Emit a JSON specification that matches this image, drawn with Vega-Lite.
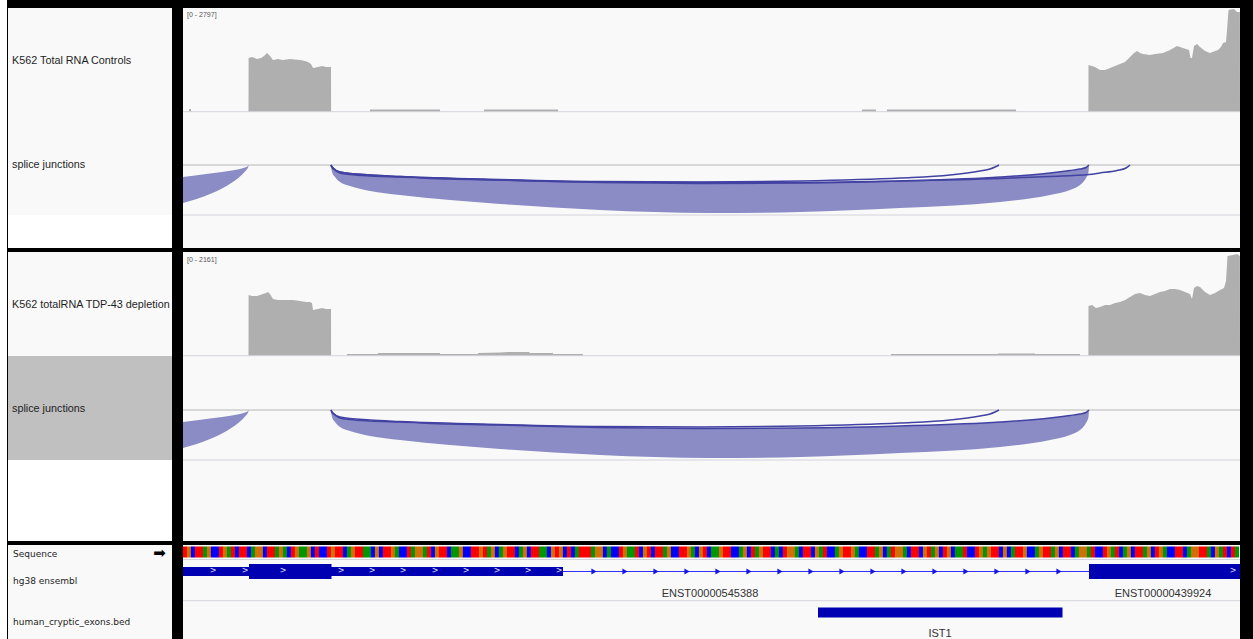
{
  "$schema": "https://vega.github.io/schema/vega-lite/v6.json",
  "width": 1253,
  "height": 639,
  "autosize": {"type": "fit", "contains": "padding"},
  "padding": 0,
  "background": "#ffffff",
  "config": {"view": {"stroke": null}},
  "datasets": {
    "boxes": [
      {"x": 0, "x2": 7, "y": 0, "y2": 639, "k": "w"},
      {"x": 7, "x2": 1253, "y": 0, "y2": 639, "k": "b"},
      {"x": 8, "x2": 172, "y": 8, "y2": 215, "k": "p"},
      {"x": 8, "x2": 172, "y": 215, "y2": 248, "k": "w"},
      {"x": 8, "x2": 172, "y": 252, "y2": 356, "k": "p"},
      {"x": 8, "x2": 172, "y": 356, "y2": 460, "k": "g"},
      {"x": 8, "x2": 172, "y": 460, "y2": 541, "k": "w"},
      {"x": 8, "x2": 172, "y": 545, "y2": 639, "k": "p"},
      {"x": 183, "x2": 1240, "y": 8, "y2": 248, "k": "p"},
      {"x": 183, "x2": 1240, "y": 252, "y2": 541, "k": "p"},
      {"x": 183, "x2": 1240, "y": 545, "y2": 639, "k": "p"}
    ],
    "hl": [
      {"x": 183, "x2": 1240, "y": 111.7, "k": "s"},
      {"x": 183, "x2": 1240, "y": 165, "k": "m"},
      {"x": 183, "x2": 1240, "y": 215, "k": "s"},
      {"x": 183, "x2": 1240, "y": 355.7, "k": "s"},
      {"x": 183, "x2": 1240, "y": 410, "k": "m"},
      {"x": 183, "x2": 1240, "y": 460, "k": "s"},
      {"x": 183, "x2": 1240, "y": 559.5, "k": "s"},
      {"x": 183, "x2": 1240, "y": 600.7, "k": "s"}
    ],
    "cov": [
      {"t": "a", "x": 183, "y": 111.3}, {"t": "a", "x": 189, "y": 111.3}, {"t": "a", "x": 189.1, "y": 109}, {"t": "a", "x": 191, "y": 109}, {"t": "a", "x": 191.1, "y": 111.3},
      {"t": "a", "x": 248.5, "y": 111.3}, {"t": "a", "x": 248.6, "y": 58}, {"t": "a", "x": 252, "y": 57}, {"t": "a", "x": 257, "y": 59}, {"t": "a", "x": 261, "y": 58}, {"t": "a", "x": 264, "y": 56}, {"t": "a", "x": 267, "y": 53}, {"t": "a", "x": 270, "y": 56}, {"t": "a", "x": 273, "y": 60}, {"t": "a", "x": 278, "y": 59}, {"t": "a", "x": 283, "y": 60}, {"t": "a", "x": 290, "y": 59}, {"t": "a", "x": 300, "y": 60}, {"t": "a", "x": 305, "y": 61}, {"t": "a", "x": 308, "y": 62}, {"t": "a", "x": 311, "y": 64}, {"t": "a", "x": 313, "y": 68}, {"t": "a", "x": 318, "y": 67}, {"t": "a", "x": 322, "y": 66}, {"t": "a", "x": 326, "y": 67}, {"t": "a", "x": 331, "y": 67}, {"t": "a", "x": 331.1, "y": 111.3},
      {"t": "a", "x": 369.9, "y": 111.3}, {"t": "a", "x": 370, "y": 109.5}, {"t": "a", "x": 440, "y": 109.5}, {"t": "a", "x": 440.1, "y": 111.3},
      {"t": "a", "x": 483.9, "y": 111.3}, {"t": "a", "x": 484, "y": 109.5}, {"t": "a", "x": 558, "y": 109.5}, {"t": "a", "x": 558.1, "y": 111.3},
      {"t": "a", "x": 861.9, "y": 111.3}, {"t": "a", "x": 862, "y": 109.5}, {"t": "a", "x": 876, "y": 109.5}, {"t": "a", "x": 876.1, "y": 111.3},
      {"t": "a", "x": 886.9, "y": 111.3}, {"t": "a", "x": 887, "y": 109.5}, {"t": "a", "x": 1016, "y": 109.5}, {"t": "a", "x": 1016.1, "y": 111.3},
      {"t": "a", "x": 1088.4, "y": 111.3}, {"t": "a", "x": 1088.5, "y": 65}, {"t": "a", "x": 1092, "y": 66}, {"t": "a", "x": 1095, "y": 67}, {"t": "a", "x": 1100, "y": 70}, {"t": "a", "x": 1105, "y": 70}, {"t": "a", "x": 1110, "y": 68}, {"t": "a", "x": 1115, "y": 66}, {"t": "a", "x": 1120, "y": 64}, {"t": "a", "x": 1125, "y": 62}, {"t": "a", "x": 1130, "y": 57}, {"t": "a", "x": 1134, "y": 53}, {"t": "a", "x": 1137, "y": 51}, {"t": "a", "x": 1140, "y": 53}, {"t": "a", "x": 1143, "y": 54}, {"t": "a", "x": 1150, "y": 55}, {"t": "a", "x": 1155, "y": 54}, {"t": "a", "x": 1163, "y": 53}, {"t": "a", "x": 1170, "y": 50}, {"t": "a", "x": 1177, "y": 46}, {"t": "a", "x": 1183, "y": 48}, {"t": "a", "x": 1189, "y": 50}, {"t": "a", "x": 1190.5, "y": 58}, {"t": "a", "x": 1192, "y": 58}, {"t": "a", "x": 1194, "y": 46}, {"t": "a", "x": 1197, "y": 44}, {"t": "a", "x": 1200, "y": 47}, {"t": "a", "x": 1205, "y": 51}, {"t": "a", "x": 1210, "y": 53}, {"t": "a", "x": 1215, "y": 51}, {"t": "a", "x": 1218, "y": 50}, {"t": "a", "x": 1221, "y": 47}, {"t": "a", "x": 1223, "y": 43}, {"t": "a", "x": 1226, "y": 42}, {"t": "a", "x": 1227, "y": 30}, {"t": "a", "x": 1228.5, "y": 10}, {"t": "a", "x": 1234, "y": 9}, {"t": "a", "x": 1237, "y": 12}, {"t": "a", "x": 1239.9, "y": 12}, {"t": "a", "x": 1240, "y": 111.3},
      {"t": "b", "x": 183, "y": 355.3}, {"t": "b", "x": 248.5, "y": 355.3}, {"t": "b", "x": 248.6, "y": 295}, {"t": "b", "x": 252, "y": 296}, {"t": "b", "x": 257, "y": 296}, {"t": "b", "x": 260, "y": 295}, {"t": "b", "x": 263, "y": 294}, {"t": "b", "x": 266, "y": 293}, {"t": "b", "x": 268, "y": 292}, {"t": "b", "x": 270, "y": 294}, {"t": "b", "x": 273, "y": 299}, {"t": "b", "x": 278, "y": 300}, {"t": "b", "x": 283, "y": 300}, {"t": "b", "x": 288, "y": 300}, {"t": "b", "x": 293, "y": 300}, {"t": "b", "x": 300, "y": 301}, {"t": "b", "x": 306, "y": 302}, {"t": "b", "x": 310, "y": 302}, {"t": "b", "x": 312, "y": 303}, {"t": "b", "x": 313, "y": 310}, {"t": "b", "x": 318, "y": 309}, {"t": "b", "x": 322, "y": 308}, {"t": "b", "x": 326, "y": 309}, {"t": "b", "x": 331, "y": 309}, {"t": "b", "x": 331.1, "y": 355.3},
      {"t": "b", "x": 346.9, "y": 355.3}, {"t": "b", "x": 347, "y": 354}, {"t": "b", "x": 378, "y": 354}, {"t": "b", "x": 378.1, "y": 353}, {"t": "b", "x": 440, "y": 353}, {"t": "b", "x": 440.1, "y": 354}, {"t": "b", "x": 478, "y": 354}, {"t": "b", "x": 478.1, "y": 353}, {"t": "b", "x": 500, "y": 352.5}, {"t": "b", "x": 508, "y": 352}, {"t": "b", "x": 529, "y": 352}, {"t": "b", "x": 530, "y": 353}, {"t": "b", "x": 552, "y": 353}, {"t": "b", "x": 552.5, "y": 352.5}, {"t": "b", "x": 553, "y": 354}, {"t": "b", "x": 583, "y": 354}, {"t": "b", "x": 583.1, "y": 355.3},
      {"t": "b", "x": 890.9, "y": 355.3}, {"t": "b", "x": 891, "y": 354}, {"t": "b", "x": 998, "y": 354}, {"t": "b", "x": 998.1, "y": 353.5}, {"t": "b", "x": 1035, "y": 353.5}, {"t": "b", "x": 1035.1, "y": 354}, {"t": "b", "x": 1080, "y": 354}, {"t": "b", "x": 1080.1, "y": 355.3},
      {"t": "b", "x": 1088.4, "y": 355.3}, {"t": "b", "x": 1088.5, "y": 306}, {"t": "b", "x": 1092, "y": 305}, {"t": "b", "x": 1096, "y": 308}, {"t": "b", "x": 1100, "y": 307}, {"t": "b", "x": 1105, "y": 305}, {"t": "b", "x": 1110, "y": 305}, {"t": "b", "x": 1115, "y": 303}, {"t": "b", "x": 1120, "y": 302}, {"t": "b", "x": 1125, "y": 300}, {"t": "b", "x": 1130, "y": 297}, {"t": "b", "x": 1135, "y": 294}, {"t": "b", "x": 1140, "y": 293}, {"t": "b", "x": 1145, "y": 295}, {"t": "b", "x": 1150, "y": 296}, {"t": "b", "x": 1155, "y": 294}, {"t": "b", "x": 1160, "y": 292}, {"t": "b", "x": 1165, "y": 291}, {"t": "b", "x": 1170, "y": 289}, {"t": "b", "x": 1175, "y": 289}, {"t": "b", "x": 1180, "y": 290}, {"t": "b", "x": 1185, "y": 292}, {"t": "b", "x": 1190, "y": 294}, {"t": "b", "x": 1192, "y": 299}, {"t": "b", "x": 1194, "y": 288}, {"t": "b", "x": 1197, "y": 286}, {"t": "b", "x": 1200, "y": 287}, {"t": "b", "x": 1205, "y": 292}, {"t": "b", "x": 1210, "y": 295}, {"t": "b", "x": 1215, "y": 293}, {"t": "b", "x": 1220, "y": 290}, {"t": "b", "x": 1224, "y": 288}, {"t": "b", "x": 1226, "y": 281}, {"t": "b", "x": 1227.5, "y": 256}, {"t": "b", "x": 1233, "y": 255}, {"t": "b", "x": 1237, "y": 254}, {"t": "b", "x": 1239.9, "y": 256}, {"t": "b", "x": 1240, "y": 355.3}
    ],
    "junc": [
      {"j": "A1", "x": 183, "lo": 203, "hi": 177}, {"j": "A1", "x": 195, "lo": 199.5, "hi": 175.5}, {"j": "A1", "x": 210, "lo": 194, "hi": 173.5}, {"j": "A1", "x": 222, "lo": 188.5, "hi": 172}, {"j": "A1", "x": 232, "lo": 182.5, "hi": 170.5}, {"j": "A1", "x": 240, "lo": 176.5, "hi": 169}, {"j": "A1", "x": 245, "lo": 171.5, "hi": 167.5}, {"j": "A1", "x": 248, "lo": 167.5, "hi": 166}, {"j": "A1", "x": 249, "lo": 165, "hi": 165},
      {"j": "B1", "x": 331, "lo": 165, "hi": 165}, {"j": "B1", "x": 332, "lo": 172, "hi": 167.5}, {"j": "B1", "x": 335, "lo": 177, "hi": 170}, {"j": "B1", "x": 340, "lo": 182, "hi": 173}, {"j": "B1", "x": 350, "lo": 186, "hi": 174.5}, {"j": "B1", "x": 370, "lo": 191, "hi": 176}, {"j": "B1", "x": 400, "lo": 195, "hi": 177}, {"j": "B1", "x": 450, "lo": 200, "hi": 179}, {"j": "B1", "x": 500, "lo": 204, "hi": 180}, {"j": "B1", "x": 600, "lo": 210, "hi": 182.5}, {"j": "B1", "x": 710, "lo": 213, "hi": 183.5}, {"j": "B1", "x": 800, "lo": 212, "hi": 183}, {"j": "B1", "x": 900, "lo": 208, "hi": 181}, {"j": "B1", "x": 1000, "lo": 202, "hi": 177}, {"j": "B1", "x": 1050, "lo": 195, "hi": 173}, {"j": "B1", "x": 1070, "lo": 190, "hi": 170.5}, {"j": "B1", "x": 1080, "lo": 185, "hi": 169}, {"j": "B1", "x": 1086, "lo": 178, "hi": 167.5}, {"j": "B1", "x": 1088.5, "lo": 172, "hi": 166.5}, {"j": "B1", "x": 1089, "lo": 165, "hi": 165},
      {"j": "A2", "x": 183, "lo": 448, "hi": 422}, {"j": "A2", "x": 195, "lo": 444.5, "hi": 420.5}, {"j": "A2", "x": 210, "lo": 439, "hi": 418.5}, {"j": "A2", "x": 222, "lo": 433.5, "hi": 417}, {"j": "A2", "x": 232, "lo": 427.5, "hi": 415.5}, {"j": "A2", "x": 240, "lo": 421.5, "hi": 414}, {"j": "A2", "x": 245, "lo": 416.5, "hi": 412.5}, {"j": "A2", "x": 248, "lo": 412.5, "hi": 411}, {"j": "A2", "x": 249, "lo": 410, "hi": 410},
      {"j": "B2", "x": 331, "lo": 410, "hi": 410}, {"j": "B2", "x": 332, "lo": 417, "hi": 412.5}, {"j": "B2", "x": 335, "lo": 422, "hi": 415}, {"j": "B2", "x": 340, "lo": 427, "hi": 418}, {"j": "B2", "x": 350, "lo": 431, "hi": 419.5}, {"j": "B2", "x": 370, "lo": 436, "hi": 421}, {"j": "B2", "x": 400, "lo": 440, "hi": 422}, {"j": "B2", "x": 450, "lo": 445, "hi": 424}, {"j": "B2", "x": 500, "lo": 449, "hi": 425}, {"j": "B2", "x": 600, "lo": 455, "hi": 427.5}, {"j": "B2", "x": 710, "lo": 458, "hi": 428.5}, {"j": "B2", "x": 800, "lo": 457, "hi": 428}, {"j": "B2", "x": 900, "lo": 453, "hi": 426}, {"j": "B2", "x": 1000, "lo": 447, "hi": 422}, {"j": "B2", "x": 1050, "lo": 440, "hi": 418}, {"j": "B2", "x": 1070, "lo": 435, "hi": 415.5}, {"j": "B2", "x": 1080, "lo": 430, "hi": 414}, {"j": "B2", "x": 1086, "lo": 423, "hi": 412.5}, {"j": "B2", "x": 1088.5, "lo": 417, "hi": 411.5}, {"j": "B2", "x": 1089, "lo": 410, "hi": 410}
    ],
    "arcs": [
      {"j": "C1", "x": 331, "y": 165}, {"j": "C1", "x": 333, "y": 168}, {"j": "C1", "x": 340, "y": 172}, {"j": "C1", "x": 370, "y": 175}, {"j": "C1", "x": 400, "y": 176.5}, {"j": "C1", "x": 500, "y": 179.5}, {"j": "C1", "x": 600, "y": 181.5}, {"j": "C1", "x": 700, "y": 182}, {"j": "C1", "x": 800, "y": 181}, {"j": "C1", "x": 900, "y": 178}, {"j": "C1", "x": 950, "y": 175}, {"j": "C1", "x": 980, "y": 171}, {"j": "C1", "x": 990, "y": 169}, {"j": "C1", "x": 995, "y": 167}, {"j": "C1", "x": 999, "y": 165},
      {"j": "D1", "x": 331, "y": 165}, {"j": "D1", "x": 333, "y": 168}, {"j": "D1", "x": 340, "y": 172}, {"j": "D1", "x": 370, "y": 175}, {"j": "D1", "x": 400, "y": 176.5}, {"j": "D1", "x": 500, "y": 180}, {"j": "D1", "x": 600, "y": 182}, {"j": "D1", "x": 700, "y": 182.5}, {"j": "D1", "x": 800, "y": 182.5}, {"j": "D1", "x": 900, "y": 181}, {"j": "D1", "x": 1000, "y": 178.5}, {"j": "D1", "x": 1050, "y": 176.5}, {"j": "D1", "x": 1089, "y": 174.5}, {"j": "D1", "x": 1100, "y": 173}, {"j": "D1", "x": 1117, "y": 170.5}, {"j": "D1", "x": 1126, "y": 168}, {"j": "D1", "x": 1130, "y": 165},
      {"j": "E1", "x": 331, "y": 165}, {"j": "E1", "x": 332, "y": 167.5}, {"j": "E1", "x": 335, "y": 170}, {"j": "E1", "x": 340, "y": 173}, {"j": "E1", "x": 350, "y": 174.5}, {"j": "E1", "x": 370, "y": 176}, {"j": "E1", "x": 400, "y": 177}, {"j": "E1", "x": 450, "y": 179}, {"j": "E1", "x": 500, "y": 180}, {"j": "E1", "x": 600, "y": 182.5}, {"j": "E1", "x": 710, "y": 183.5}, {"j": "E1", "x": 800, "y": 183}, {"j": "E1", "x": 900, "y": 181}, {"j": "E1", "x": 1000, "y": 177}, {"j": "E1", "x": 1050, "y": 173}, {"j": "E1", "x": 1070, "y": 170.5}, {"j": "E1", "x": 1080, "y": 169}, {"j": "E1", "x": 1086, "y": 167.5}, {"j": "E1", "x": 1089, "y": 165},
      {"j": "C2", "x": 331, "y": 410}, {"j": "C2", "x": 333, "y": 413}, {"j": "C2", "x": 340, "y": 417}, {"j": "C2", "x": 370, "y": 420}, {"j": "C2", "x": 400, "y": 421.5}, {"j": "C2", "x": 500, "y": 424.5}, {"j": "C2", "x": 600, "y": 426.5}, {"j": "C2", "x": 700, "y": 427}, {"j": "C2", "x": 800, "y": 426}, {"j": "C2", "x": 900, "y": 423}, {"j": "C2", "x": 950, "y": 420}, {"j": "C2", "x": 980, "y": 416}, {"j": "C2", "x": 990, "y": 414}, {"j": "C2", "x": 995, "y": 412}, {"j": "C2", "x": 999, "y": 410},
      {"j": "E2", "x": 331, "y": 410}, {"j": "E2", "x": 332, "y": 412.5}, {"j": "E2", "x": 335, "y": 415}, {"j": "E2", "x": 340, "y": 418}, {"j": "E2", "x": 350, "y": 419.5}, {"j": "E2", "x": 370, "y": 421}, {"j": "E2", "x": 400, "y": 422}, {"j": "E2", "x": 450, "y": 424}, {"j": "E2", "x": 500, "y": 425}, {"j": "E2", "x": 600, "y": 427.5}, {"j": "E2", "x": 710, "y": 428.5}, {"j": "E2", "x": 800, "y": 428}, {"j": "E2", "x": 900, "y": 426}, {"j": "E2", "x": 1000, "y": 422}, {"j": "E2", "x": 1050, "y": 418}, {"j": "E2", "x": 1070, "y": 415.5}, {"j": "E2", "x": 1080, "y": 414}, {"j": "E2", "x": 1086, "y": 412.5}, {"j": "E2", "x": 1089, "y": 410}
    ],
    "seq": [
      {"x":185,"y":546.5,"b":"T"},{"x":189,"y":546.5,"b":"G"},{"x":193,"y":546.5,"b":"C"},{"x":197,"y":546.5,"b":"T"},{"x":201,"y":546.5,"b":"T"},{"x":205,"y":546.5,"b":"A"},{"x":209,"y":546.5,"b":"G"},{"x":213,"y":546.5,"b":"C"},{"x":217,"y":546.5,"b":"C"},{"x":221,"y":546.5,"b":"T"},
      {"x":225,"y":546.5,"b":"G"},{"x":229,"y":546.5,"b":"A"},{"x":233,"y":546.5,"b":"T"},{"x":237,"y":546.5,"b":"C"},{"x":241,"y":546.5,"b":"T"},{"x":245,"y":546.5,"b":"T"},{"x":249,"y":546.5,"b":"C"},{"x":253,"y":546.5,"b":"A"},{"x":257,"y":546.5,"b":"G"},{"x":261,"y":546.5,"b":"G"},
      {"x":265,"y":546.5,"b":"C"},{"x":269,"y":546.5,"b":"T"},{"x":273,"y":546.5,"b":"T"},{"x":277,"y":546.5,"b":"A"},{"x":281,"y":546.5,"b":"G"},{"x":285,"y":546.5,"b":"A"},{"x":289,"y":546.5,"b":"C"},{"x":293,"y":546.5,"b":"T"},{"x":297,"y":546.5,"b":"G"},{"x":301,"y":546.5,"b":"A"},
      {"x":305,"y":546.5,"b":"A"},{"x":309,"y":546.5,"b":"G"},{"x":313,"y":546.5,"b":"C"},{"x":317,"y":546.5,"b":"T"},{"x":321,"y":546.5,"b":"C"},{"x":325,"y":546.5,"b":"C"},{"x":329,"y":546.5,"b":"T"},{"x":333,"y":546.5,"b":"G"},{"x":337,"y":546.5,"b":"T"},{"x":341,"y":546.5,"b":"T"},
      {"x":345,"y":546.5,"b":"C"},{"x":349,"y":546.5,"b":"A"},{"x":353,"y":546.5,"b":"G"},{"x":357,"y":546.5,"b":"T"},{"x":361,"y":546.5,"b":"T"},{"x":365,"y":546.5,"b":"A"},{"x":369,"y":546.5,"b":"A"},{"x":373,"y":546.5,"b":"C"},{"x":377,"y":546.5,"b":"G"},{"x":381,"y":546.5,"b":"C"},
      {"x":385,"y":546.5,"b":"T"},{"x":389,"y":546.5,"b":"T"},{"x":393,"y":546.5,"b":"G"},{"x":397,"y":546.5,"b":"A"},{"x":401,"y":546.5,"b":"C"},{"x":405,"y":546.5,"b":"C"},{"x":409,"y":546.5,"b":"T"},{"x":413,"y":546.5,"b":"A"},{"x":417,"y":546.5,"b":"G"},{"x":421,"y":546.5,"b":"G"},
      {"x":425,"y":546.5,"b":"A"},{"x":429,"y":546.5,"b":"T"},{"x":433,"y":546.5,"b":"C"},{"x":437,"y":546.5,"b":"G"},{"x":441,"y":546.5,"b":"T"},{"x":445,"y":546.5,"b":"T"},{"x":449,"y":546.5,"b":"C"},{"x":453,"y":546.5,"b":"A"},{"x":457,"y":546.5,"b":"A"},{"x":461,"y":546.5,"b":"G"},
      {"x":465,"y":546.5,"b":"C"},{"x":469,"y":546.5,"b":"C"},{"x":473,"y":546.5,"b":"T"},{"x":477,"y":546.5,"b":"T"},{"x":481,"y":546.5,"b":"G"},{"x":485,"y":546.5,"b":"T"},{"x":489,"y":546.5,"b":"A"},{"x":493,"y":546.5,"b":"G"},{"x":497,"y":546.5,"b":"C"},{"x":501,"y":546.5,"b":"A"},
      {"x":505,"y":546.5,"b":"G"},{"x":509,"y":546.5,"b":"T"},{"x":513,"y":546.5,"b":"T"},{"x":517,"y":546.5,"b":"C"},{"x":521,"y":546.5,"b":"A"},{"x":525,"y":546.5,"b":"G"},{"x":529,"y":546.5,"b":"C"},{"x":533,"y":546.5,"b":"T"},{"x":537,"y":546.5,"b":"T"},{"x":541,"y":546.5,"b":"A"},
      {"x":545,"y":546.5,"b":"A"},{"x":549,"y":546.5,"b":"C"},{"x":553,"y":546.5,"b":"G"},{"x":557,"y":546.5,"b":"T"},{"x":561,"y":546.5,"b":"G"},{"x":565,"y":546.5,"b":"C"},{"x":569,"y":546.5,"b":"T"},{"x":573,"y":546.5,"b":"C"},{"x":577,"y":546.5,"b":"A"},{"x":581,"y":546.5,"b":"T"},
      {"x":585,"y":546.5,"b":"T"},{"x":589,"y":546.5,"b":"T"},{"x":593,"y":546.5,"b":"A"},{"x":597,"y":546.5,"b":"G"},{"x":601,"y":546.5,"b":"G"},{"x":605,"y":546.5,"b":"C"},{"x":609,"y":546.5,"b":"A"},{"x":613,"y":546.5,"b":"C"},{"x":617,"y":546.5,"b":"C"},{"x":621,"y":546.5,"b":"T"},
      {"x":625,"y":546.5,"b":"G"},{"x":629,"y":546.5,"b":"A"},{"x":633,"y":546.5,"b":"A"},{"x":637,"y":546.5,"b":"T"},{"x":641,"y":546.5,"b":"C"},{"x":645,"y":546.5,"b":"G"},{"x":649,"y":546.5,"b":"T"},{"x":653,"y":546.5,"b":"C"},{"x":657,"y":546.5,"b":"T"},{"x":661,"y":546.5,"b":"T"},
      {"x":665,"y":546.5,"b":"A"},{"x":669,"y":546.5,"b":"G"},{"x":673,"y":546.5,"b":"C"},{"x":677,"y":546.5,"b":"C"},{"x":681,"y":546.5,"b":"T"},{"x":685,"y":546.5,"b":"T"},{"x":689,"y":546.5,"b":"G"},{"x":693,"y":546.5,"b":"A"},{"x":697,"y":546.5,"b":"C"},{"x":701,"y":546.5,"b":"G"},
      {"x":705,"y":546.5,"b":"T"},{"x":709,"y":546.5,"b":"C"},{"x":713,"y":546.5,"b":"A"},{"x":717,"y":546.5,"b":"A"},{"x":721,"y":546.5,"b":"G"},{"x":725,"y":546.5,"b":"T"},{"x":729,"y":546.5,"b":"T"},{"x":733,"y":546.5,"b":"C"},{"x":737,"y":546.5,"b":"C"},{"x":741,"y":546.5,"b":"A"},
      {"x":745,"y":546.5,"b":"G"},{"x":749,"y":546.5,"b":"C"},{"x":753,"y":546.5,"b":"T"},{"x":757,"y":546.5,"b":"A"},{"x":761,"y":546.5,"b":"G"},{"x":765,"y":546.5,"b":"T"},{"x":769,"y":546.5,"b":"T"},{"x":773,"y":546.5,"b":"C"},{"x":777,"y":546.5,"b":"A"},{"x":781,"y":546.5,"b":"C"},
      {"x":785,"y":546.5,"b":"T"},{"x":789,"y":546.5,"b":"G"},{"x":793,"y":546.5,"b":"G"},{"x":797,"y":546.5,"b":"A"},{"x":801,"y":546.5,"b":"C"},{"x":805,"y":546.5,"b":"T"},{"x":809,"y":546.5,"b":"T"},{"x":813,"y":546.5,"b":"C"},{"x":817,"y":546.5,"b":"G"},{"x":821,"y":546.5,"b":"A"},
      {"x":825,"y":546.5,"b":"T"},{"x":829,"y":546.5,"b":"C"},{"x":833,"y":546.5,"b":"C"},{"x":837,"y":546.5,"b":"A"},{"x":841,"y":546.5,"b":"G"},{"x":845,"y":546.5,"b":"T"},{"x":849,"y":546.5,"b":"T"},{"x":853,"y":546.5,"b":"G"},{"x":857,"y":546.5,"b":"A"},{"x":861,"y":546.5,"b":"C"},
      {"x":865,"y":546.5,"b":"C"},{"x":869,"y":546.5,"b":"T"},{"x":873,"y":546.5,"b":"T"},{"x":877,"y":546.5,"b":"A"},{"x":881,"y":546.5,"b":"G"},{"x":885,"y":546.5,"b":"C"},{"x":889,"y":546.5,"b":"A"},{"x":893,"y":546.5,"b":"T"},{"x":897,"y":546.5,"b":"G"},{"x":901,"y":546.5,"b":"G"},
      {"x":905,"y":546.5,"b":"A"},{"x":909,"y":546.5,"b":"C"},{"x":913,"y":546.5,"b":"T"},{"x":917,"y":546.5,"b":"T"},{"x":921,"y":546.5,"b":"C"},{"x":925,"y":546.5,"b":"G"},{"x":929,"y":546.5,"b":"T"},{"x":933,"y":546.5,"b":"A"},{"x":937,"y":546.5,"b":"G"},{"x":941,"y":546.5,"b":"C"},
      {"x":945,"y":546.5,"b":"T"},{"x":949,"y":546.5,"b":"G"},{"x":953,"y":546.5,"b":"C"},{"x":957,"y":546.5,"b":"A"},{"x":961,"y":546.5,"b":"A"},{"x":965,"y":546.5,"b":"T"},{"x":969,"y":546.5,"b":"C"},{"x":973,"y":546.5,"b":"C"},{"x":977,"y":546.5,"b":"T"},{"x":981,"y":546.5,"b":"G"},
      {"x":985,"y":546.5,"b":"A"},{"x":989,"y":546.5,"b":"G"},{"x":993,"y":546.5,"b":"T"},{"x":997,"y":546.5,"b":"T"},{"x":1001,"y":546.5,"b":"C"},{"x":1005,"y":546.5,"b":"G"},{"x":1009,"y":546.5,"b":"C"},{"x":1013,"y":546.5,"b":"A"},{"x":1017,"y":546.5,"b":"T"},{"x":1021,"y":546.5,"b":"T"},
      {"x":1025,"y":546.5,"b":"G"},{"x":1029,"y":546.5,"b":"C"},{"x":1033,"y":546.5,"b":"C"},{"x":1037,"y":546.5,"b":"A"},{"x":1041,"y":546.5,"b":"G"},{"x":1045,"y":546.5,"b":"T"},{"x":1049,"y":546.5,"b":"T"},{"x":1053,"y":546.5,"b":"A"},{"x":1057,"y":546.5,"b":"G"},{"x":1061,"y":546.5,"b":"C"},
      {"x":1065,"y":546.5,"b":"T"},{"x":1069,"y":546.5,"b":"T"},{"x":1073,"y":546.5,"b":"C"},{"x":1077,"y":546.5,"b":"A"},{"x":1081,"y":546.5,"b":"G"},{"x":1085,"y":546.5,"b":"G"},{"x":1089,"y":546.5,"b":"A"},{"x":1093,"y":546.5,"b":"T"},{"x":1097,"y":546.5,"b":"C"},{"x":1101,"y":546.5,"b":"C"},
      {"x":1105,"y":546.5,"b":"T"},{"x":1109,"y":546.5,"b":"G"},{"x":1113,"y":546.5,"b":"A"},{"x":1117,"y":546.5,"b":"T"},{"x":1121,"y":546.5,"b":"C"},{"x":1125,"y":546.5,"b":"A"},{"x":1129,"y":546.5,"b":"G"},{"x":1133,"y":546.5,"b":"C"},{"x":1137,"y":546.5,"b":"T"},{"x":1141,"y":546.5,"b":"T"},
      {"x":1145,"y":546.5,"b":"A"},{"x":1149,"y":546.5,"b":"G"},{"x":1153,"y":546.5,"b":"C"},{"x":1157,"y":546.5,"b":"T"},{"x":1161,"y":546.5,"b":"G"},{"x":1165,"y":546.5,"b":"A"},{"x":1169,"y":546.5,"b":"C"},{"x":1173,"y":546.5,"b":"C"},{"x":1177,"y":546.5,"b":"T"},{"x":1181,"y":546.5,"b":"T"},
      {"x":1185,"y":546.5,"b":"C"},{"x":1189,"y":546.5,"b":"A"},{"x":1193,"y":546.5,"b":"G"},{"x":1197,"y":546.5,"b":"G"},{"x":1201,"y":546.5,"b":"T"},{"x":1205,"y":546.5,"b":"T"},{"x":1209,"y":546.5,"b":"A"},{"x":1213,"y":546.5,"b":"C"},{"x":1217,"y":546.5,"b":"G"},{"x":1221,"y":546.5,"b":"A"},
      {"x":1225,"y":546.5,"b":"T"},{"x":1229,"y":546.5,"b":"C"},{"x":1233,"y":546.5,"b":"T"},{"x":1237,"y":546.5,"b":"A"}
    ],
    "feat": [
      {"x": 183, "x2": 563, "y": 567, "y2": 576},
      {"x": 249, "x2": 331.5, "y": 564, "y2": 579},
      {"x": 1089, "x2": 1240, "y": 564, "y2": 579},
      {"x": 818, "x2": 1062.5, "y": 607.5, "y2": 617.5}
    ],
    "intron": [{"x": 563, "x2": 1089, "y": 571.5}],
    "arrows": [
      {"x": 594, "y": 571.5}, {"x": 625, "y": 571.5}, {"x": 656, "y": 571.5}, {"x": 687, "y": 571.5}, {"x": 718, "y": 571.5}, {"x": 749, "y": 571.5}, {"x": 780, "y": 571.5}, {"x": 811, "y": 571.5},
      {"x": 842, "y": 571.5}, {"x": 873, "y": 571.5}, {"x": 904, "y": 571.5}, {"x": 935, "y": 571.5}, {"x": 966, "y": 571.5}, {"x": 997, "y": 571.5}, {"x": 1028, "y": 571.5}, {"x": 1059, "y": 571.5}
    ],
    "chev": [
      {"x": 213, "y": 571}, {"x": 245, "y": 571}, {"x": 283, "y": 571}, {"x": 341, "y": 571}, {"x": 372, "y": 571}, {"x": 403, "y": 571},
      {"x": 435, "y": 571}, {"x": 466, "y": 571}, {"x": 497, "y": 571}, {"x": 528, "y": 571}, {"x": 559, "y": 571}, {"x": 1233, "y": 571}
    ],
    "labels": [
      {"g": "name", "x": 12, "y": 60.5, "t": "K562 Total RNA Controls"},
      {"g": "name", "x": 12, "y": 164.5, "t": "splice junctions"},
      {"g": "name", "x": 12, "y": 305, "t": "K562 totalRNA TDP-43 depletion"},
      {"g": "name", "x": 12, "y": 408.5, "t": "splice junctions"},
      {"g": "name2", "x": 13, "y": 553.5, "t": "Sequence"},
      {"g": "name2", "x": 13, "y": 581, "t": "hg38 ensembl"},
      {"g": "name2", "x": 13, "y": 622, "t": "human_cryptic_exons.bed"},
      {"g": "range", "x": 187, "y": 15, "t": "[0 - 2797]"},
      {"g": "range", "x": 187, "y": 260, "t": "[0 - 2161]"},
      {"g": "feat", "x": 710, "y": 593.5, "t": "ENST00000545388"},
      {"g": "feat", "x": 1163, "y": 593.5, "t": "ENST00000439924"},
      {"g": "feat2", "x": 940, "y": 639, "t": "IST1"},
      {"g": "arrow", "x": 159.5, "y": 552.5, "t": "➡"}
    ]
  },
  "layer": [
    {
      "data": {"name": "boxes"},
      "mark": {"type": "rect"},
      "encoding": {
        "x": {"field": "x", "type": "quantitative", "scale": {"domain": [0, 1253], "nice": false, "zero": false}, "axis": null},
        "x2": {"field": "x2"},
        "y": {"field": "y", "type": "quantitative", "scale": {"domain": [0, 639], "nice": false, "zero": false, "reverse": true}, "axis": null},
        "y2": {"field": "y2"},
        "color": {"field": "k", "type": "nominal", "scale": {"domain": ["w", "b", "p", "g", "s", "m", "A", "C", "G", "T"], "range": ["#ffffff", "#000000", "#f9f9f9", "#c0c0c0", "#d4d4dc", "#b6b6b6", "#009600", "#0000ff", "#d17105", "#ff0000"]}, "legend": null}
      }
    },
    {
      "data": {"name": "hl"},
      "mark": {"type": "rule", "strokeWidth": 1},
      "encoding": {
        "x": {"field": "x", "type": "quantitative", "axis": null},
        "x2": {"field": "x2"},
        "y": {"field": "y", "type": "quantitative", "axis": null},
        "color": {"field": "k", "type": "nominal", "legend": null}
      }
    },
    {
      "data": {"name": "cov"},
      "transform": [{"filter": "datum.t == 'a'"}],
      "mark": {"type": "area", "color": "#afafaf", "interpolate": "linear"},
      "encoding": {
        "x": {"field": "x", "type": "quantitative", "axis": null},
        "y": {"field": "y", "type": "quantitative", "axis": null},
        "y2": {"datum": 111.3}
      }
    },
    {
      "data": {"name": "cov"},
      "transform": [{"filter": "datum.t == 'b'"}],
      "mark": {"type": "area", "color": "#afafaf", "interpolate": "linear"},
      "encoding": {
        "x": {"field": "x", "type": "quantitative", "axis": null},
        "y": {"field": "y", "type": "quantitative", "axis": null},
        "y2": {"datum": 355.3}
      }
    },
    {
      "data": {"name": "junc"},
      "mark": {"type": "area", "color": "#8b8bc6", "interpolate": "monotone"},
      "encoding": {
        "x": {"field": "x", "type": "quantitative", "axis": null},
        "y": {"field": "lo", "type": "quantitative", "axis": null},
        "y2": {"field": "hi"},
        "detail": {"field": "j", "type": "nominal"}
      }
    },
    {
      "data": {"name": "arcs"},
      "mark": {"type": "line", "color": "#4242a2", "strokeWidth": 1.5, "interpolate": "monotone"},
      "encoding": {
        "x": {"field": "x", "type": "quantitative", "axis": null},
        "y": {"field": "y", "type": "quantitative", "axis": null},
        "detail": {"field": "j", "type": "nominal"}
      }
    },
    {
      "data": {"name": "seq"},
      "mark": {"type": "rule", "strokeWidth": 4.2, "strokeCap": "butt"},
      "encoding": {
        "x": {"field": "x", "type": "quantitative", "axis": null},
        "y": {"field": "y", "type": "quantitative", "axis": null},
        "y2": {"datum": 557.5},
        "color": {"field": "b", "type": "nominal", "legend": null}
      }
    },
    {
      "data": {"name": "intron"},
      "mark": {"type": "rule", "color": "#3030ff", "strokeWidth": 1.2},
      "encoding": {
        "x": {"field": "x", "type": "quantitative", "axis": null},
        "x2": {"field": "x2"},
        "y": {"field": "y", "type": "quantitative", "axis": null}
      }
    },
    {
      "data": {"name": "feat"},
      "mark": {"type": "rect", "color": "#0000b2"},
      "encoding": {
        "x": {"field": "x", "type": "quantitative", "axis": null},
        "x2": {"field": "x2"},
        "y": {"field": "y", "type": "quantitative", "axis": null},
        "y2": {"field": "y2"}
      }
    },
    {
      "data": {"name": "arrows"},
      "mark": {"type": "point", "shape": "triangle-right", "filled": true, "size": 36, "color": "#1515e8", "opacity": 1},
      "encoding": {
        "x": {"field": "x", "type": "quantitative", "axis": null},
        "y": {"field": "y", "type": "quantitative", "axis": null}
      }
    },
    {
      "data": {"name": "chev"},
      "mark": {"type": "text", "text": ">", "color": "#e8e8ff", "fontSize": 8, "font": "DejaVu Sans", "baseline": "middle", "align": "center"},
      "encoding": {
        "x": {"field": "x", "type": "quantitative", "axis": null},
        "y": {"field": "y", "type": "quantitative", "axis": null}
      }
    },
    {
      "data": {"name": "labels"},
      "transform": [{"filter": "datum.g == 'name'"}],
      "mark": {"type": "text", "font": "Liberation Sans", "fontSize": 10.8, "color": "#1e1e1e", "align": "left", "baseline": "middle"},
      "encoding": {
        "x": {"field": "x", "type": "quantitative", "axis": null},
        "y": {"field": "y", "type": "quantitative", "axis": null},
        "text": {"field": "t", "type": "nominal"}
      }
    },
    {
      "data": {"name": "labels"},
      "transform": [{"filter": "datum.g == 'name2'"}],
      "mark": {"type": "text", "font": "DejaVu Sans", "fontSize": 9, "color": "#1e1e1e", "align": "left", "baseline": "middle"},
      "encoding": {
        "x": {"field": "x", "type": "quantitative", "axis": null},
        "y": {"field": "y", "type": "quantitative", "axis": null},
        "text": {"field": "t", "type": "nominal"}
      }
    },
    {
      "data": {"name": "labels"},
      "transform": [{"filter": "datum.g == 'range'"}],
      "mark": {"type": "text", "font": "Liberation Sans", "fontSize": 7, "color": "#555555", "align": "left", "baseline": "middle"},
      "encoding": {
        "x": {"field": "x", "type": "quantitative", "axis": null},
        "y": {"field": "y", "type": "quantitative", "axis": null},
        "text": {"field": "t", "type": "nominal"}
      }
    },
    {
      "data": {"name": "labels"},
      "transform": [{"filter": "datum.g == 'feat'"}],
      "mark": {"type": "text", "font": "Liberation Sans", "fontSize": 11, "color": "#333333", "align": "center", "baseline": "middle"},
      "encoding": {
        "x": {"field": "x", "type": "quantitative", "axis": null},
        "y": {"field": "y", "type": "quantitative", "axis": null},
        "text": {"field": "t", "type": "nominal"}
      }
    },
    {
      "data": {"name": "labels"},
      "transform": [{"filter": "datum.g == 'feat2'"}],
      "mark": {"type": "text", "font": "Liberation Sans", "fontSize": 11, "color": "#333333", "align": "center", "baseline": "bottom"},
      "encoding": {
        "x": {"field": "x", "type": "quantitative", "axis": null},
        "y": {"field": "y", "type": "quantitative", "axis": null},
        "text": {"field": "t", "type": "nominal"}
      }
    },
    {
      "data": {"name": "labels"},
      "transform": [{"filter": "datum.g == 'arrow'"}],
      "mark": {"type": "text", "font": "DejaVu Sans", "fontSize": 15, "color": "#000000", "align": "center", "baseline": "middle"},
      "encoding": {
        "x": {"field": "x", "type": "quantitative", "axis": null},
        "y": {"field": "y", "type": "quantitative", "axis": null},
        "text": {"field": "t", "type": "nominal"}
      }
    }
  ]
}
